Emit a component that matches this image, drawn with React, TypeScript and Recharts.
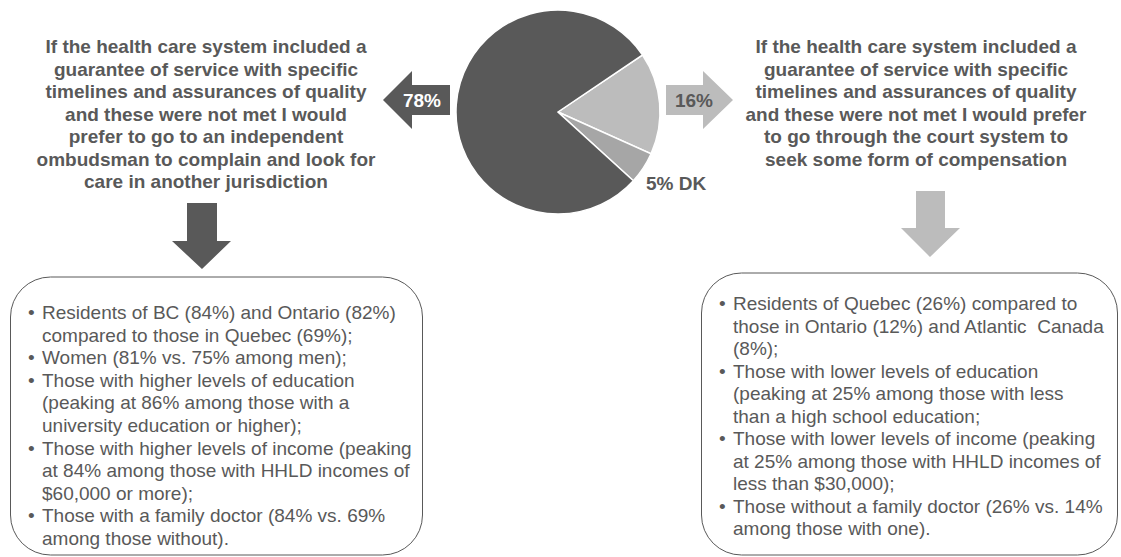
import { PieChart, Pie, Cell } from 'recharts'

const sliceNames = ['Court system', 'DK', 'Ombudsman']
const sliceValues = [16, 5, 78]
const sliceColors = ['#bcbcbc', '#a6a6a6', '#595959']

const leftPct = '78%'
const rightPct = '16%'
const dkLabel = '5% DK'

const leftHeader = [
  'If the health care system included a',
  'guarantee of service with specific',
  'timelines and assurances of quality',
  'and these were not met I would',
  'prefer to go to an independent',
  'ombudsman to complain and look for',
  'care in another jurisdiction',
]

const rightHeader = [
  'If the health care system included a',
  'guarantee of service with specific',
  'timelines and assurances of quality',
  'and these were not met I would prefer',
  'to go through the court system to',
  'seek some form of compensation',
]

const leftBullets = [
  ['Residents of BC (84%) and Ontario (82%)', 'compared to those in Quebec (69%);'],
  ['Women (81% vs. 75% among men);'],
  ['Those with higher levels of education', '(peaking at 86% among those with a', 'university education or higher);'],
  ['Those with higher levels of income (peaking', 'at 84% among those with HHLD incomes of', '$60,000 or more);'],
  ['Those with a family doctor (84% vs. 69%', 'among those without).'],
]

const rightBullets = [
  ['Residents of Quebec (26%) compared to', 'those in Ontario (12%) and Atlantic  Canada', '(8%);'],
  ['Those with lower levels of education', '(peaking at 25% among those with less', 'than a high school education;'],
  ['Those with lower levels of income (peaking', 'at 25% among those with HHLD incomes of', 'less than $30,000);'],
  ['Those without a family doctor (26% vs. 14%', 'among those with one).'],
]

const pieData = sliceNames.map((name, i) => ({ name, value: sliceValues[i] }))

const FONT = '"Liberation Sans", Arial, sans-serif'
const GREY = '#595959'

// bullet lists: dot at x, wrapped lines indented to x + 14
function BulletBlock({ items, x, y, lh }: { items: string[][]; x: number; y: number; lh: number }) {
  let row = 0
  const out: any[] = []
  items.forEach((lines, i) => {
    lines.forEach((ln, j) => {
      const yy = y + row * lh
      if (j === 0) out.push(<text key={`b${i}`} x={x} y={yy} fontSize={19}>•</text>)
      out.push(<text key={`t${i}-${j}`} x={x + 14} y={yy} fontSize={19} style={{ whiteSpace: 'pre' }}>{ln}</text>)
      row++
    })
  })
  return <g fill={GREY} fontFamily={FONT}>{out}</g>
}

export default function App() {
  return (
    <div style={{ position: 'absolute', left: 0, top: 0, width: 1121, height: 557, background: '#fff' }}>
      <PieChart width={1121} height={557} margin={{ top: 0, right: 0, bottom: 0, left: 0 }}>
        <Pie
          data={pieData}
          dataKey="value"
          nameKey="name"
          cx={558}
          cy={112}
          outerRadius={102}
          startAngle={34}
          endAngle={-326}
          stroke="#ffffff"
          strokeWidth={1.5}
          isAnimationActive={false}
        >
          {pieData.map((d, i) => <Cell key={d.name} fill={sliceColors[i]} />)}
        </Pie>
      </PieChart>
      <svg width={1121} height={557} style={{ position: 'absolute', left: 0, top: 0, pointerEvents: 'none' }}>
        {/* side arrows */}
        <polygon points="383,100 412,71 412,85 450,85 450,115 412,115 412,129" fill={GREY} />
        <text x={422} y={107} textAnchor="middle" fontFamily={FONT} fontWeight="bold" fontSize={19} fill="#fff">{leftPct}</text>
        <polygon points="666,85 703,85 703,71 733,100 703,129 703,115 666,115" fill="#bcbcbc" />
        <text x={694} y={107} textAnchor="middle" fontFamily={FONT} fontWeight="bold" fontSize={19} fill={GREY}>{rightPct}</text>
        <text x={646} y={190} fontFamily={FONT} fontWeight="bold" fontSize={19} fill={GREY}>{dkLabel}</text>

        {/* headers */}
        <g fontFamily={FONT} fontWeight="bold" fontSize={19} fill={GREY} textAnchor="middle">
          {leftHeader.map((l, i) => <text key={i} x={206} y={53 + i * 22.5}>{l}</text>)}
          {rightHeader.map((l, i) => <text key={i} x={916} y={53 + i * 22.6}>{l}</text>)}
        </g>

        {/* down arrows */}
        <polygon points="187,203 217,203 217,241 231,241 202,269 172,241 187,241" fill={GREY} />
        <polygon points="916,191 945,191 945,228 960,228 930,257 901,228 916,228" fill="#bcbcbc" />

        {/* boxes */}
        <rect x={10.5} y={277} width={412} height={278} rx={40} ry={40} fill="none" stroke={GREY} strokeWidth={1} />
        <rect x={701.5} y={273} width={416} height={282} rx={40} ry={40} fill="none" stroke={GREY} strokeWidth={1} />

        <BulletBlock items={leftBullets} x={28} y={319} lh={22.6} />
        <BulletBlock items={rightBullets} x={719} y={310} lh={22.5} />
      </svg>
    </div>
  )
}
